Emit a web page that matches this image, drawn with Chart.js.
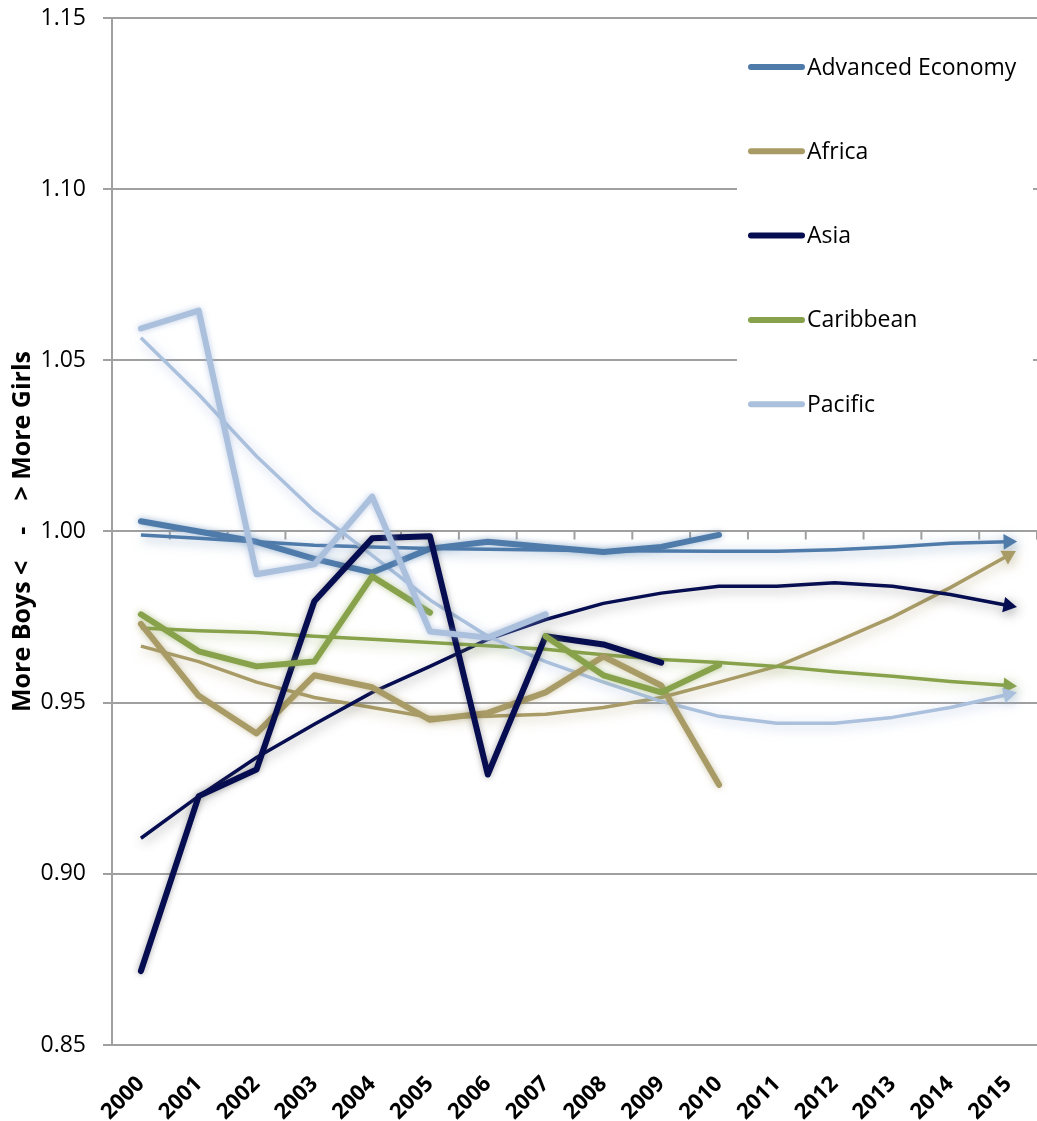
<!DOCTYPE html>
<html>
<head>
<meta charset="utf-8">
<script src="https://cdn.jsdelivr.net/npm/chart.js@4"></script>
<style>
html,body{margin:0;padding:0;background:#fff;}
#wrap{position:relative;width:1037px;height:1121px;}
</style>
</head>
<body>
<div id="wrap"><canvas id="c" width="1037" height="1121"></canvas></div>
<script>
const years = ['2000','2001','2002','2003','2004','2005','2006','2007','2008','2009','2010','2011','2012','2013','2014','2015'];
const seriesNames = ['Advanced Economy','Africa','Asia','Caribbean','Pacific'];
const seriesColors = ['#4f7bab','#a89b66','#060d50','#87a24a','#aac0dc'];
const glowColors = ['rgba(79,123,171,0.55)','rgba(168,155,102,0.55)','rgba(60,60,60,0.45)','rgba(135,162,74,0.55)','rgba(150,175,215,0.6)'];

const advanced  = [1.003, 1.000, 0.997, 0.992, 0.988, 0.995, 0.997, 0.9955, 0.994, 0.9955, 0.999, null, null, null, null, null];
const africa    = [0.973, 0.952, 0.941, 0.958, 0.9545, 0.945, 0.947, 0.953, 0.9635, 0.955, 0.926, null, null, null, null, null];
const asia      = [0.8716, 0.9227, 0.9305, 0.9796, 0.998, 0.9986, 0.929, 0.9694, 0.967, 0.9617, null, null, null, null, null, null];
const caribbean = [0.9758, 0.965, 0.9606, 0.962, 0.9869, 0.9763, null, 0.9694, 0.958, 0.953, 0.961, null, null, null, null, null];
const pacific   = [1.0593, 1.0645, 0.9875, 0.9904, 1.0102, 0.9708, 0.969, 0.9758, null, null, null, null, null, null, null, null];

const advancedTrend  = [0.999, 0.998, 0.997, 0.996, 0.9955, 0.995, 0.9948, 0.9946, 0.9944, 0.9943, 0.9942, 0.9942, 0.9947, 0.9955, 0.9966, 0.997];
const africaTrend    = [0.9665, 0.962, 0.956, 0.9515, 0.9486, 0.9457, 0.946, 0.9466, 0.9486, 0.9515, 0.956, 0.9606, 0.9676, 0.975, 0.9836, 0.993];
const asiaTrend      = [0.9104, 0.9227, 0.934, 0.9437, 0.953, 0.9606, 0.9685, 0.9743, 0.979, 0.982, 0.984, 0.984, 0.985, 0.984, 0.9816, 0.9784];
const caribbeanTrend = [0.9718, 0.971, 0.9705, 0.9694, 0.9685, 0.9676, 0.9666, 0.9656, 0.964, 0.9626, 0.9617, 0.9606, 0.959, 0.9577, 0.9562, 0.955];
const pacificTrend   = [1.0566, 1.040, 1.022, 1.006, 0.993, 0.980, 0.9694, 0.962, 0.956, 0.9504, 0.946, 0.944, 0.944, 0.9457, 0.9486, 0.9524];

const yTicks = ['0.85','0.90','0.95','1.00','1.05','1.10','1.15'];
const yAxisTitle = 'More Boys <    -    > More Girls';

const FONT = "'Open Sans', 'Noto Sans', sans-serif";
const mainData = [advanced, africa, asia, caribbean, pacific];
const trendData = [advancedTrend, africaTrend, asiaTrend, caribbeanTrend, pacificTrend];

function arrowRotation(ctx) {
  const ch = ctx.chart;
  const d = ctx.dataset.data;
  const i = ctx.dataIndex;
  if (i < 1) return 90;
  const xs = ch.scales.x, ys = ch.scales.y;
  const dx = xs.getPixelForValue(i) - xs.getPixelForValue(i - 1);
  const dy = ys.getPixelForValue(d[i]) - ys.getPixelForValue(d[i - 1]);
  return 90 + Math.atan2(dy, dx) * 180 / Math.PI;
}

const datasets = [];
mainData.forEach((arr, k) => {
  datasets.push({
    label: seriesNames[k], data: arr, borderColor: seriesColors[k], backgroundColor: seriesColors[k],
    borderWidth: 6, pointRadius: 0, pointHoverRadius: 0, spanGaps: false, tension: 0,
    borderCapStyle: 'round', borderJoinStyle: 'round', fill: false,
    order: 10 - k, glow: glowColors[k], glowBlur: 6, isMain: true
  });
});
trendData.forEach((arr, k) => {
  datasets.push({
    label: seriesNames[k] + ' trend', data: arr, borderColor: seriesColors[k], backgroundColor: seriesColors[k],
    borderWidth: 3.5, tension: 0, fill: false, borderJoinStyle: 'round',
    pointStyle: 'triangle', pointBorderWidth: 0,
    pointRadius: (c) => c.dataIndex === c.dataset.data.length - 1 ? 9 : 0,
    pointHoverRadius: 0,
    pointRotation: arrowRotation,
    order: 20 - k, glow: glowColors[k], glowBlur: 12, isMain: false
  });
});

const glowPlugin = {
  id: 'glow',
  beforeDatasetDraw(chart, args) {
    const ds = chart.data.datasets[args.index];
    const ctx = chart.ctx;
    ctx.save();
    ctx.shadowColor = ds.glow;
    ctx.shadowBlur = ds.glowBlur;
    ctx.shadowOffsetX = ds.isMain ? 0 : 2;
    ctx.shadowOffsetY = ds.isMain ? 0 : 3;
  },
  afterDatasetDraw(chart) { chart.ctx.restore(); }
};

const axisTicksPlugin = {
  id: 'crossTicks',
  beforeDatasetsDraw(chart) {
    const xs = chart.scales.x, ys = chart.scales.y, ctx = chart.ctx;
    const y0 = ys.getPixelForValue(1.0);
    ctx.save();
    ctx.strokeStyle = '#a0a0a0';
    ctx.lineWidth = 2;
    for (let i = 0; i <= years.length; i++) {
      const x = xs.getPixelForValue(i - 0.5);
      ctx.beginPath();
      ctx.moveTo(x, y0);
      ctx.lineTo(x, y0 + 8);
      ctx.stroke();
    }
    ctx.restore();
  }
};

const legendPlugin = {
  id: 'insideLegend',
  beforeDatasetsDraw(chart) {
    const a = chart.chartArea, ctx = chart.ctx;
    const boxLeft = a.right - 300, boxTop = a.top + 2, boxW = 296, boxH = 420;
    ctx.save();
    ctx.fillStyle = '#ffffff';
    ctx.fillRect(boxLeft, boxTop, boxW, boxH);
    ctx.restore();
  },
  afterDraw(chart) {
    const a = chart.chartArea, ctx = chart.ctx;
    const x0 = a.right - 289, x1 = a.right - 232;
    ctx.save();
    ctx.font = "23px " + FONT;
    ctx.textBaseline = 'middle';
    ctx.textAlign = 'left';
    seriesNames.forEach((name, k) => {
      const y = a.top + 49 + k * 84.3;
      ctx.strokeStyle = seriesColors[k];
      ctx.lineWidth = 6;
      ctx.lineCap = 'round';
      ctx.beginPath();
      ctx.moveTo(x0 + 3, y);
      ctx.lineTo(x1 - 3, y);
      ctx.stroke();
      ctx.fillStyle = '#000';
      ctx.fillText(name, x1 + 2, y + 1);
    });
    ctx.restore();
  }
};

new Chart(document.getElementById('c'), {
  type: 'line',
  data: { labels: years, datasets: datasets },
  options: {
    responsive: false,
    animation: false,
    devicePixelRatio: 1,
    layout: { autoPadding: false, padding: { top: 18, right: 0, left: 8, bottom: 0 } },
    plugins: { legend: { display: false }, tooltip: { enabled: false } },
    scales: {
      x: {
        type: 'category',
        offset: true,
        grid: { display: false, drawTicks: false },
        border: { display: false },
        ticks: {
          color: '#000', font: { family: FONT, size: 22, weight: 'bold' },
          maxRotation: 45, minRotation: 45, padding: 26, autoSkip: false
        },
        afterFit(scale) { scale.height = 76; scale.paddingLeft = 0; scale.paddingRight = 0; }
      },
      y: {
        min: 0.85, max: 1.15,
        grid: { color: '#a0a0a0', lineWidth: 2, tickLength: 9, drawTicks: true },
        border: { display: true, color: '#a0a0a0', width: 2 },
        ticks: {
          stepSize: 0.05, color: '#000', padding: 17,
          font: { family: FONT, size: 23 },
          callback: (v) => { const s = Number(v).toFixed(2); return yTicks.includes(s) ? s : ''; }
        },
        title: {
          display: true, text: yAxisTitle, color: '#000',
          font: { family: FONT, size: 25, weight: 'bold' }, padding: { top: 0, bottom: 2 }
        },
        afterFit(scale) { scale.width = 104; scale.paddingTop = 0; scale.paddingBottom = 0; }
      }
    }
  },
  plugins: [glowPlugin, axisTicksPlugin, legendPlugin]
});
</script>
</body>
</html>
